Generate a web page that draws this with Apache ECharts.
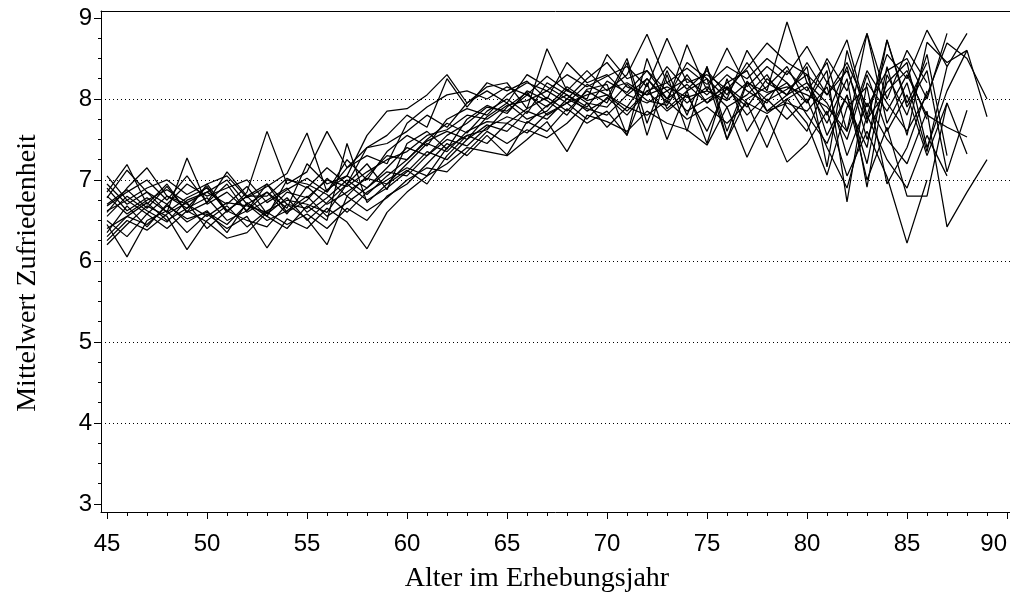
<!DOCTYPE html>
<html>
<head>
<meta charset="utf-8">
<script src="https://cdn.jsdelivr.net/npm/echarts@6/dist/echarts.min.js"></script>
<style>
  html, body { margin: 0; padding: 0; background: #fff; }
  #chart { width: 1010px; height: 606px; }
</style>
</head>
<body>
<div id="chart"></div>
<script>
// Alter (x) und Mittelwerte der Zufriedenheit je Kurve
const alter = [45, 46, 47, 48, 49, 50, 51, 52, 53, 54, 55, 56, 57, 58, 59, 60, 61, 62, 63, 64, 65, 66, 67,
  68, 69, 70, 71, 72, 73, 74, 75, 76, 77, 78, 79, 80, 81, 82, 83, 84, 85, 86, 87, 88, 89];

const kurve01 = [6.62, 6.75, 6.58, 6.80, 6.70, 6.55, 6.72, 6.68, 6.60, 6.85, 6.78, 7.00, 6.92, 7.10, 7.25,
  7.35, 7.55, 7.62, 7.80, 7.75, 7.92, 7.98, 8.10, 7.95, 8.05, 8.12, 8.20, 8.05, 8.15, 8.02,
  8.10, 7.98, 8.20, 8.08, 8.15, 8.05, 7.90, 7.60, 8.35, 7.95, 7.60, 8.05, 8.69, 8.50, 8.00];
const kurve02 = [6.95, 6.70, 6.85, 6.60, 6.78, 6.90, 6.62, 6.80, 6.95, 6.70, 6.65, 6.88, 7.05, 6.90, 7.15,
  7.40, 7.30, 7.55, 7.70, 7.90, 7.85, 8.05, 7.90, 8.15, 7.98, 8.05, 7.90, 8.25, 8.00, 8.18,
  7.95, 8.12, 7.90, 8.25, 8.05, 8.20, 7.80, 8.40, 7.50, 8.20, 8.45, 7.40, 8.10, 8.60, 7.78];
const kurve03 = [6.40, 6.55, 6.72, 6.50, 6.65, 6.78, 6.50, 6.62, 6.85, 6.58, 6.92, 6.70, 6.85, 7.02, 6.95,
  7.20, 7.45, 7.35, 7.60, 7.72, 7.70, 7.88, 8.02, 7.85, 8.10, 7.95, 8.45, 7.55, 8.30, 7.60,
  8.40, 7.50, 8.20, 7.85, 7.95, 7.85, 8.15, 7.30, 7.95, 7.50, 7.20, 7.85, 6.42, 6.85, 7.25];
const kurve04 = [6.70, 6.88, 6.65, 6.92, 6.60, 6.72, 6.95, 6.60, 6.75, 6.90, 6.60, 6.78, 7.00, 6.82, 7.05,
  7.25, 7.50, 7.70, 7.58, 7.85, 8.00, 7.82, 8.20, 8.05, 7.90, 8.22, 8.08, 8.35, 8.10, 8.25,
  8.05, 8.30, 8.10, 7.95, 8.35, 8.10, 8.45, 7.60, 8.81, 7.70, 8.20, 7.35, 8.40, 8.81];
const kurve05 = [6.30, 6.55, 6.45, 6.68, 6.52, 6.60, 6.45, 6.70, 6.50, 6.62, 6.80, 6.55, 6.72, 6.90, 7.10,
  7.05, 7.30, 7.50, 7.42, 7.65, 7.78, 7.70, 7.92, 8.05, 7.85, 8.00, 8.50, 7.70, 8.35, 7.80,
  8.40, 7.60, 8.22, 7.98, 8.12, 8.30, 7.55, 8.05, 7.20, 8.40, 7.55, 8.70, 8.45, 8.60];
const kurve06 = [6.85, 7.19, 6.70, 6.95, 6.60, 6.95, 6.62, 6.80, 6.55, 7.00, 6.95, 6.82, 6.60, 6.85, 7.00,
  7.15, 7.05, 7.40, 7.55, 7.62, 7.90, 8.08, 7.80, 7.95, 8.18, 8.05, 7.85, 8.10, 8.20, 7.95,
  8.15, 7.90, 8.05, 8.30, 7.90, 7.60, 8.20, 7.95, 7.40, 8.73, 7.90, 8.35, 7.10, 7.86];
const kurve07 = [6.55, 6.80, 6.62, 6.48, 6.75, 6.85, 6.70, 6.92, 6.58, 6.78, 6.50, 6.72, 6.95, 7.20, 6.88,
  7.45, 7.60, 7.38, 7.75, 7.92, 7.82, 8.10, 7.98, 7.80, 8.12, 8.18, 7.55, 8.50, 7.88, 8.10,
  8.25, 7.50, 8.00, 8.15, 8.40, 7.95, 8.35, 6.73, 8.20, 7.85, 8.30, 7.80, 7.65, 7.53];
const kurve08 = [6.20, 6.45, 6.68, 6.55, 6.14, 6.50, 6.68, 6.42, 6.62, 6.75, 6.70, 6.60, 6.95, 6.75, 6.90,
  7.10, 7.35, 7.25, 7.50, 7.68, 7.60, 7.85, 7.75, 8.00, 7.88, 7.80, 8.05, 7.95, 8.10, 7.85,
  8.00, 8.15, 7.80, 8.05, 8.20, 7.80, 7.45, 8.05, 7.00, 7.65, 6.80, 6.80, 7.95, 7.32];
const kurve09 = [7.05, 6.75, 6.90, 7.00, 6.82, 6.95, 7.05, 6.78, 6.92, 7.08, 7.58, 6.85, 7.25, 7.00, 7.35,
  7.55, 7.42, 7.75, 7.88, 7.80, 8.05, 8.20, 8.10, 8.30, 8.15, 8.28, 8.40, 8.15, 8.75, 8.20,
  8.30, 8.12, 8.38, 8.69, 8.45, 8.30, 8.05, 8.45, 7.90, 8.35, 8.50, 8.00, 8.81];
const kurve10 = [6.50, 6.30, 6.58, 6.40, 6.62, 6.48, 6.28, 6.35, 6.60, 6.45, 6.58, 6.40, 6.65, 6.50, 6.80,
  6.95, 7.20, 7.45, 7.30, 7.55, 7.31, 7.72, 7.60, 7.88, 7.70, 7.85, 7.55, 8.20, 7.50, 8.10,
  7.45, 8.25, 7.60, 8.00, 7.75, 8.00, 7.40, 6.90, 7.80, 7.25, 6.90, 7.55, 7.05];
const kurve11 = [6.78, 7.12, 6.85, 6.70, 6.95, 6.80, 6.90, 7.00, 6.72, 6.88, 7.02, 6.85, 7.15, 7.30, 7.20,
  7.70, 7.90, 8.05, 8.10, 8.00, 8.15, 8.05, 8.28, 8.10, 8.35, 8.10, 8.30, 8.80, 8.20, 8.38,
  8.18, 8.40, 8.25, 8.50, 8.30, 8.65, 8.20, 8.73, 7.80, 8.55, 8.25, 8.85, 8.40];
const kurve12 = [6.60, 6.90, 7.15, 6.80, 6.65, 6.92, 6.60, 6.85, 7.60, 6.95, 7.10, 7.60, 7.15, 7.40, 7.45,
  7.60, 7.80, 7.65, 7.95, 8.10, 7.95, 8.30, 8.15, 8.00, 8.25, 8.45, 8.15, 8.05, 8.40, 8.12,
  8.35, 8.05, 8.45, 8.10, 8.95, 8.20, 7.95, 7.50, 8.30, 7.60, 8.05, 7.30, 7.95];
const kurve13 = [6.45, 6.05, 6.50, 6.62, 6.35, 6.58, 6.40, 6.55, 6.16, 6.52, 6.40, 6.65, 6.48, 6.15, 6.60,
  6.85, 7.05, 7.20, 7.40, 7.35, 7.30, 7.50, 7.72, 7.35, 7.80, 7.72, 7.60, 7.85, 7.70, 7.62,
  7.43, 7.90, 7.28, 7.80, 7.22, 7.45, 7.85, 7.05, 7.60, 7.04, 6.22, 7.00];
const kurve14 = [6.90, 6.62, 6.78, 6.60, 7.27, 6.70, 6.85, 6.62, 6.95, 6.60, 6.75, 7.02, 6.80, 7.05, 7.30,
  7.25, 7.48, 7.60, 7.50, 7.78, 7.95, 7.75, 7.85, 8.12, 7.95, 7.90, 8.18, 7.98, 7.92, 8.30,
  7.95, 8.20, 8.35, 7.85, 8.05, 8.40, 7.16, 8.60, 7.75, 8.10, 8.35, 7.75];
const kurve15 = [6.25, 6.50, 6.38, 6.58, 6.72, 6.40, 6.62, 6.50, 6.42, 6.70, 6.52, 6.20, 6.80, 6.62, 6.78,
  7.00, 7.15, 7.10, 7.35, 7.60, 7.45, 7.62, 7.52, 7.70, 7.95, 7.65, 7.90, 7.80, 7.98, 7.75,
  7.90, 7.70, 7.95, 7.82, 8.00, 7.70, 7.06, 7.90, 8.15, 6.95, 7.40, 8.10];
const kurve16 = [6.68, 6.85, 7.00, 6.75, 7.05, 6.72, 7.10, 6.80, 6.80, 7.02, 6.90, 7.15, 6.95, 7.40, 7.55,
  7.80, 7.65, 8.25, 7.90, 8.20, 8.10, 8.22, 8.00, 8.45, 8.20, 8.30, 8.05, 8.25, 7.95, 8.67,
  8.10, 8.63, 8.15, 8.40, 8.20, 7.95, 8.50, 8.10, 8.81, 8.00, 8.60, 8.20];
const kurve17 = [6.35, 6.68, 6.42, 6.70, 6.48, 6.62, 6.35, 6.72, 6.55, 6.40, 6.68, 6.50, 7.45, 6.72, 6.95,
  7.12, 6.95, 7.30, 7.55, 7.45, 7.70, 7.58, 7.82, 7.95, 7.75, 8.02, 7.80, 8.10, 7.85, 8.05,
  7.60, 8.15, 7.95, 7.40, 8.00, 8.15, 7.70, 8.25, 6.91, 8.30, 7.80, 8.55, 7.30];
const kurve18 = [6.80, 6.58, 6.75, 6.88, 6.72, 6.85, 7.00, 6.70, 6.85, 6.65, 7.20, 6.95, 7.05, 7.55, 7.85,
  7.88, 8.05, 8.30, 7.95, 8.15, 8.20, 7.88, 8.62, 8.10, 8.00, 8.55, 8.25, 8.35, 8.00, 8.45,
  8.25, 8.00, 8.60, 8.20, 8.05, 8.45, 8.05, 8.35, 7.70, 8.73, 7.95, 8.45];

const kurven = [kurve01, kurve02, kurve03, kurve04, kurve05, kurve06, kurve07, kurve08, kurve09,
  kurve10, kurve11, kurve12, kurve13, kurve14, kurve15, kurve16, kurve17, kurve18];

// Achsenbeschriftungen und Hilfslinien
const xBeschriftung = [45, 50, 55, 60, 65, 70, 75, 80, 85, 90];
const yBeschriftung = [3, 4, 5, 6, 7, 8, 9];
const gitterlinien = [4, 5, 6, 7, 8];
const xTitel = 'Alter im Erhebungsjahr';
const yTitel = 'Mittelwert Zufriedenheit';

// Kleine Striche: jedes Jahr auf x, Viertelschritte auf y
const xKleineStriche = [];
for (let a = 45; a <= 90; a++) xKleineStriche.push(a);
const yKleineStriche = [];
for (let v = 3; v <= 9.0001; v += 0.25) yKleineStriche.push(Math.round(v * 100) / 100);

const X_MIN = 44.7, X_MAX = 90.15, Y_MIN = 2.9, Y_MAX = 9.086;
const schwarz = '#000';
const zifferFont = { fontFamily: '"Liberation Sans", Arial, sans-serif', fontSize: 24, color: schwarz };

const chart = echarts.init(document.getElementById('chart'), null, { renderer: 'canvas' });

const linienSerien = kurven.map((werte, k) => ({
  type: 'line',
  name: 'Kurve ' + (k + 1),
  data: werte.map((v, i) => [alter[i], v]),
  symbol: 'none',
  showSymbol: false,
  silent: true,
  lineStyle: { color: schwarz, width: 1.25 },
  z: 3
}));

const gitterSerie = {
  type: 'line',
  data: [],
  silent: true,
  markLine: {
    silent: true,
    symbol: 'none',
    label: { show: false },
    lineStyle: { color: schwarz, width: 1, type: [1, 3] },
    emphasis: { disabled: true },
    data: gitterlinien.map(v => ({ yAxis: v }))
  },
  z: 2
};

chart.setOption({
  animation: false,
  backgroundColor: '#fff',
  grid: { left: 101, right: 0, top: 11, bottom: 94, containLabel: false },
  xAxis: [
    {
      type: 'value', min: X_MIN, max: X_MAX, position: 'bottom',
      axisLine: { show: true, lineStyle: { color: schwarz, width: 1 } },
      axisTick: { show: true, customValues: xKleineStriche, length: 4, lineStyle: { color: schwarz } },
      axisLabel: { show: false },
      splitLine: { show: false }
    },
    {
      type: 'value', min: X_MIN, max: X_MAX, position: 'bottom',
      axisLine: { show: false },
      axisTick: { show: true, customValues: xBeschriftung, length: 7, lineStyle: { color: schwarz } },
      axisLabel: Object.assign({ show: true, customValues: xBeschriftung, margin: 20, alignMaxLabel: 'right' }, zifferFont),
      splitLine: { show: false }
    },
    {
      type: 'value', min: X_MIN, max: X_MAX, position: 'top',
      axisLine: { show: true, lineStyle: { color: schwarz, width: 1 } },
      axisTick: { show: false }, axisLabel: { show: false }, splitLine: { show: false }
    }
  ],
  yAxis: [
    {
      type: 'value', min: Y_MIN, max: Y_MAX, position: 'left',
      axisLine: { show: true, lineStyle: { color: schwarz, width: 1 } },
      axisTick: { show: true, customValues: yKleineStriche, length: 3, lineStyle: { color: schwarz } },
      axisLabel: { show: false },
      splitLine: { show: false }
    },
    {
      type: 'value', min: Y_MIN, max: Y_MAX, position: 'left',
      axisLine: { show: false },
      axisTick: { show: true, customValues: yBeschriftung, length: 7, lineStyle: { color: schwarz } },
      axisLabel: Object.assign({ show: true, customValues: yBeschriftung, margin: 9 }, zifferFont),
      splitLine: { show: false }
    }
  ],
  series: linienSerien.concat([gitterSerie]),
  graphic: [
    {
      type: 'text', x: 537, y: 579, silent: true,
      style: { text: xTitel, font: '28px "Liberation Serif"', fill: schwarz, textAlign: 'center', textVerticalAlign: 'middle' }
    },
    {
      type: 'text', x: 28, y: 273, rotation: Math.PI / 2, silent: true,
      style: { text: yTitel, font: '28px "Liberation Serif"', fill: schwarz, textAlign: 'center', textVerticalAlign: 'middle' }
    }
  ]
});
</script>
</body>
</html>
